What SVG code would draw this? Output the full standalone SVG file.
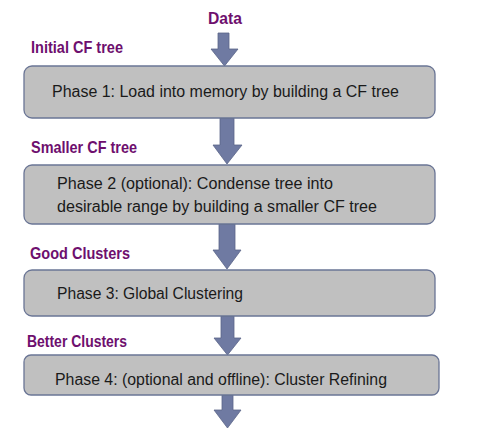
<svg xmlns="http://www.w3.org/2000/svg" width="482" height="436" viewBox="0 0 482 436">
<style>
.box{fill:#c0c0c0;stroke:#6a7595;stroke-width:1.3}
.arr{fill:#6f7aa2;stroke:#5a6488;stroke-width:0.8}
.lbl{font-family:"Liberation Sans",Arial,sans-serif;font-weight:bold;font-size:16.5px;fill:#6e0f6e}
.ph{font-family:"Liberation Sans",Arial,sans-serif;font-size:16px;fill:#1a1a1a}
</style>
<rect width="482" height="436" fill="#ffffff"/>
<g id="connectors">
<polygon class="arr" points="218,33 229,33 229,49 238,49 224.5,66 211,49 218,49"/>
<polygon class="arr" points="220,118 234,118 234,145 242,145 227,164 213,145 220,145"/>
<polygon class="arr" points="219,224 235,224 235,250 241,250 227,269 213,250 219,250"/>
<polygon class="arr" points="221,316 234,316 234,338 241,338 227.5,355 214,338 221,338"/>
<polygon class="arr" points="222,395 233,395 233,410 241,410 227.5,428 214,410 222,410"/>
</g>
<g id="labels">
<text class="lbl" x="208" y="24" textLength="34" lengthAdjust="spacingAndGlyphs">Data</text>
<text class="lbl" x="31" y="53" textLength="92" lengthAdjust="spacingAndGlyphs">Initial CF tree</text>
<text class="lbl" x="31" y="153" textLength="106" lengthAdjust="spacingAndGlyphs">Smaller CF tree</text>
<text class="lbl" x="30" y="259" textLength="100" lengthAdjust="spacingAndGlyphs">Good Clusters</text>
<text class="lbl" x="27" y="347" textLength="100" lengthAdjust="spacingAndGlyphs">Better Clusters</text>
</g>
<g id="phase1">
<rect class="box" x="24" y="66" width="411" height="52" rx="8"/>
<text class="ph" x="52" y="97" textLength="347" lengthAdjust="spacingAndGlyphs">Phase 1: Load into memory by building a CF tree</text>
</g>
<g id="phase2">
<rect class="box" x="24" y="165" width="411" height="59" rx="8"/>
<text class="ph" x="57" y="189" textLength="276" lengthAdjust="spacingAndGlyphs">Phase 2 (optional): Condense tree into</text>
<text class="ph" x="57" y="212" textLength="320" lengthAdjust="spacingAndGlyphs">desirable range by building a smaller CF tree</text>
</g>
<g id="phase3">
<rect class="box" x="24" y="270" width="411" height="46" rx="8"/>
<text class="ph" x="57" y="299" textLength="186" lengthAdjust="spacingAndGlyphs">Phase 3: Global Clustering</text>
</g>
<g id="phase4">
<rect class="box" x="24" y="355" width="415" height="40" rx="7"/>
<text class="ph" x="55" y="385" textLength="332" lengthAdjust="spacingAndGlyphs">Phase 4: (optional and offline): Cluster Refining</text>
</g>
</svg>
